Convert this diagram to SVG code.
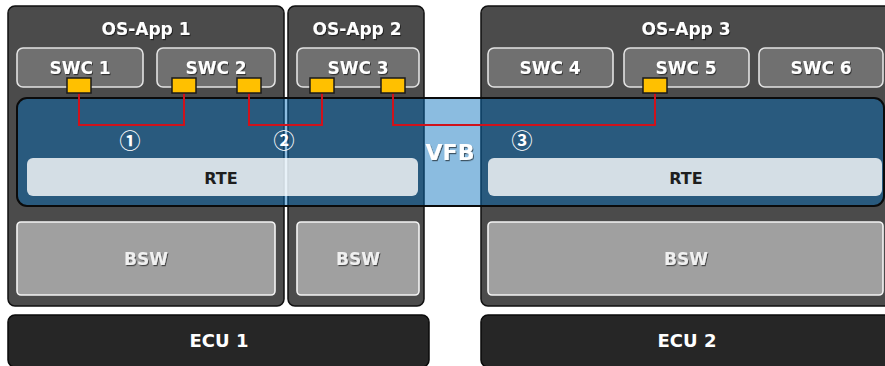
<svg xmlns="http://www.w3.org/2000/svg" width="885" height="366" viewBox="0 0 885 366">
  <defs>
    <filter id="shadow" x="-20%" y="-30%" width="140%" height="160%">
      <feDropShadow dx="1" dy="1.2" stdDeviation="0.7" flood-color="#000" flood-opacity="0.55"/>
    </filter>
    <style>
      .osapp { fill: #4b4b4b; stroke: #111; stroke-width: 1.5; }
      .swc { fill: #707070; stroke: #e2e2e2; stroke-width: 1.6; }
      .bsw { fill: #a0a0a0; stroke: #f4f4f4; stroke-width: 1.6; }
      .ecu { fill: #262626; stroke: #0a0a0a; stroke-width: 1.5; }
      .band { fill: rgb(3,108,188); fill-opacity: 0.46; stroke: #0b0b0b; stroke-width: 2; }
      .rte { fill: #ffffff; fill-opacity: 0.8; }
      .port { fill: #ffc000; stroke: #1a1a1a; stroke-width: 1.5; }
      .wire { fill: none; stroke: #d0121b; stroke-width: 2; }
      text { font-family: "DejaVu Sans", "Liberation Sans", sans-serif; font-weight: bold; text-anchor: middle; }
      .lbl { fill: #ffffff; font-size: 17px; filter: url(#shadow); }
      .bswlbl { fill: #f0f0f0; font-size: 17px; filter: url(#shadow); }
      .rtelbl { fill: #1e1e1e; font-size: 16px; }
      .ecul { fill: #ffffff; font-size: 18px; }
      .vfb { fill: #ffffff; font-size: 22px; filter: url(#shadow); }
      .num { fill: #ffffff; font-size: 21px; font-weight: bold; font-family: "Noto Sans CJK KR", "DejaVu Sans", sans-serif; }
    </style>
  </defs>

  <rect width="885" height="366" fill="#ffffff"/>

  <!-- ECUs -->
  <g id="ecu1">
    <rect class="ecu" x="8" y="315" width="421" height="52" rx="7"/>
    <text class="ecul" x="219" y="347">ECU 1</text>
  </g>
  <g id="ecu2">
    <rect class="ecu" x="481" y="315" width="412" height="52" rx="7"/>
    <text class="ecul" x="687" y="347">ECU 2</text>
  </g>

  <!-- OS applications -->
  <g id="osapp1">
    <rect class="osapp" x="8" y="6" width="276" height="300" rx="7"/>
    <text class="lbl" x="146" y="35">OS-App 1</text>
  </g>
  <g id="osapp2">
    <rect class="osapp" x="288" y="6" width="136" height="300" rx="7"/>
    <text class="lbl" x="357" y="35">OS-App 2</text>
  </g>
  <g id="osapp3">
    <rect class="osapp" x="481" y="6" width="412" height="300" rx="7"/>
    <text class="lbl" x="686" y="35">OS-App 3</text>
  </g>

  <!-- software components -->
  <g id="swc1">
    <rect class="swc" x="17" y="48" width="126" height="39" rx="6"/>
    <text class="lbl" x="80" y="74">SWC 1</text>
  </g>
  <g id="swc2">
    <rect class="swc" x="157" y="48" width="118" height="39" rx="6"/>
    <text class="lbl" x="216" y="74">SWC 2</text>
  </g>
  <g id="swc3">
    <rect class="swc" x="297" y="48" width="122" height="39" rx="6"/>
    <text class="lbl" x="358" y="74">SWC 3</text>
  </g>
  <g id="swc4">
    <rect class="swc" x="488" y="48" width="125" height="39" rx="6"/>
    <text class="lbl" x="550" y="74">SWC 4</text>
  </g>
  <g id="swc5">
    <rect class="swc" x="624" y="48" width="125" height="39" rx="6"/>
    <text class="lbl" x="686" y="74">SWC 5</text>
  </g>
  <g id="swc6">
    <rect class="swc" x="759" y="48" width="124" height="39" rx="6"/>
    <text class="lbl" x="821" y="74">SWC 6</text>
  </g>

  <!-- basic software -->
  <g id="bsw1">
    <rect class="bsw" x="17" y="222" width="258" height="73" rx="4"/>
    <text class="bswlbl" x="146" y="265">BSW</text>
  </g>
  <g id="bsw2">
    <rect class="bsw" x="297" y="222" width="122" height="73" rx="4"/>
    <text class="bswlbl" x="358" y="265">BSW</text>
  </g>
  <g id="bsw3">
    <rect class="bsw" x="488" y="222" width="395" height="73" rx="4"/>
    <text class="bswlbl" x="686" y="265">BSW</text>
  </g>

  <!-- virtual functional bus (translucent, lets the gaps show through) -->
  <g id="vfb">
    <rect class="band" x="17" y="98" width="867" height="108" rx="10"/>
    <text class="vfb" x="450" y="160">VFB</text>
  </g>
  <g id="rte1">
    <rect class="rte" x="27" y="158" width="391" height="38" rx="6"/>
    <text class="rtelbl" x="221" y="184">RTE</text>
  </g>
  <g id="rte2">
    <rect class="rte" x="488" y="158" width="394" height="38" rx="6"/>
    <text class="rtelbl" x="686" y="184">RTE</text>
  </g>

  <!-- connections between ports -->
  <g id="connectors">
    <polyline class="wire" points="79,93 79,125 184,125 184,93"/>
    <polyline class="wire" points="249,93 249,125 322,125 322,93"/>
    <polyline class="wire" points="393,93 393,125 655,125 655,93"/>
    <text class="num" x="130" y="148">①</text>
    <text class="num" x="284" y="148">②</text>
    <text class="num" x="522" y="148">③</text>
  </g>

  <!-- ports -->
  <g id="ports">
    <rect class="port" x="67" y="78" width="24" height="15"/>
    <rect class="port" x="172" y="78" width="24" height="15"/>
    <rect class="port" x="237" y="78" width="24" height="15"/>
    <rect class="port" x="310" y="78" width="24" height="15"/>
    <rect class="port" x="381" y="78" width="24" height="15"/>
    <rect class="port" x="643" y="78" width="24" height="15"/>
  </g>
</svg>
